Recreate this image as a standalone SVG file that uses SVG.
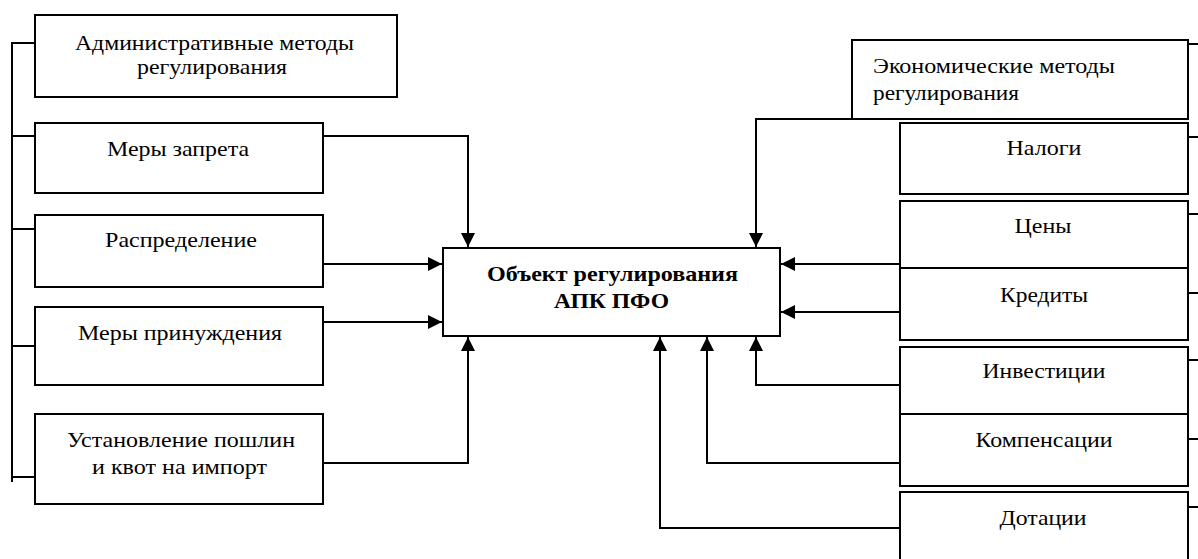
<svg xmlns="http://www.w3.org/2000/svg" width="1198" height="559" viewBox="0 0 1198 559">
<style>
.box{fill:#fff;stroke:#000;stroke-width:2}
.ln{fill:none;stroke:#000;stroke-width:2}
text{font-family:"Liberation Serif","Times New Roman",serif;font-size:21px;fill:#000}
.c{text-anchor:middle}
.b{font-weight:bold;font-size:21px}
</style>
<defs>
<marker id="ah" viewBox="0 0 10 10" refX="10" refY="5" markerWidth="14" markerHeight="14" markerUnits="userSpaceOnUse" orient="auto">
<path d="M0,0 L10,5 L0,10 Z" fill="#000"/>
</marker>
</defs>
<g id="connectors">
<path class="ln" d="M35,43 H12 V482 M12,136 H35 M12,229 H35 M12,346 H35 M12,477 H35"/>
<path class="ln" d="M1188,44 H1198 M1188,137 H1198 M1188,214 H1198 M1188,293 H1198 M1188,360 H1198 M1188,439 H1198 M1188,507 H1198"/>
<path class="ln" d="M323,136 H468 V247" marker-end="url(#ah)"/>
<path class="ln" d="M323,264 H442" marker-end="url(#ah)"/>
<path class="ln" d="M323,322 H442" marker-end="url(#ah)"/>
<path class="ln" d="M323,463 H468 V337" marker-end="url(#ah)"/>
<path class="ln" d="M852,119 H756 V247" marker-end="url(#ah)"/>
<path class="ln" d="M900,264 H781" marker-end="url(#ah)"/>
<path class="ln" d="M900,312 H781" marker-end="url(#ah)"/>
<path class="ln" d="M900,385 H756 V337" marker-end="url(#ah)"/>
<path class="ln" d="M900,463 H707 V337" marker-end="url(#ah)"/>
<path class="ln" d="M900,528 H660 V337" marker-end="url(#ah)"/>
</g>
<g id="admin"><rect class="box" x="35" y="15" width="362" height="82"/><text class="c" x="214.5" y="50" textLength="279" lengthAdjust="spacingAndGlyphs">Административные методы</text><text class="c" x="212" y="74" textLength="150" lengthAdjust="spacingAndGlyphs">регулирования</text></g>
<g id="zapret"><rect class="box" x="35" y="123" width="288" height="70"/><text class="c" x="178" y="156" textLength="142" lengthAdjust="spacingAndGlyphs">Меры запрета</text></g>
<g id="raspred"><rect class="box" x="35" y="215" width="288" height="72"/><text class="c" x="181" y="247" textLength="152" lengthAdjust="spacingAndGlyphs">Распределение</text></g>
<g id="prinuzh"><rect class="box" x="35" y="307" width="288" height="78"/><text class="c" x="180" y="340" textLength="204" lengthAdjust="spacingAndGlyphs">Меры принуждения</text></g>
<g id="poshliny"><rect class="box" x="35" y="414" width="288" height="90"/><text class="c" x="181" y="447" textLength="228" lengthAdjust="spacingAndGlyphs">Установление пошлин</text><text class="c" x="179.5" y="474" textLength="175" lengthAdjust="spacingAndGlyphs">и квот на импорт</text></g>
<g id="object"><rect class="box" x="443" y="248" width="337" height="88"/><text class="c b" x="612.5" y="281" textLength="251" lengthAdjust="spacingAndGlyphs">Объект регулирования</text><text class="c b" x="611.5" y="308" textLength="115" lengthAdjust="spacingAndGlyphs">АПК ПФО</text></g>
<g id="econ"><rect class="box" x="852" y="40" width="336" height="79"/><text x="873" y="73" textLength="242" lengthAdjust="spacingAndGlyphs">Экономические методы</text><text x="873" y="100" textLength="146" lengthAdjust="spacingAndGlyphs">регулирования</text></g>
<g id="nalogi"><rect class="box" x="900" y="123" width="288" height="71"/><text class="c" x="1044" y="155" textLength="75" lengthAdjust="spacingAndGlyphs">Налоги</text></g>
<g id="ceny"><rect class="box" x="900" y="201" width="288" height="67"/><text class="c" x="1043" y="233" textLength="57" lengthAdjust="spacingAndGlyphs">Цены</text></g>
<g id="kredity"><rect class="box" x="900" y="268" width="288" height="72"/><text class="c" x="1044" y="302" textLength="88" lengthAdjust="spacingAndGlyphs">Кредиты</text></g>
<g id="invest"><rect class="box" x="900" y="347" width="288" height="67"/><text class="c" x="1044" y="378" textLength="123" lengthAdjust="spacingAndGlyphs">Инвестиции</text></g>
<g id="kompens"><rect class="box" x="900" y="414" width="288" height="72"/><text class="c" x="1044" y="447" textLength="137" lengthAdjust="spacingAndGlyphs">Компенсации</text></g>
<g id="dotacii"><rect class="box" x="900" y="492" width="288" height="80"/><text class="c" x="1043" y="525" textLength="87" lengthAdjust="spacingAndGlyphs">Дотации</text></g>
</svg>
